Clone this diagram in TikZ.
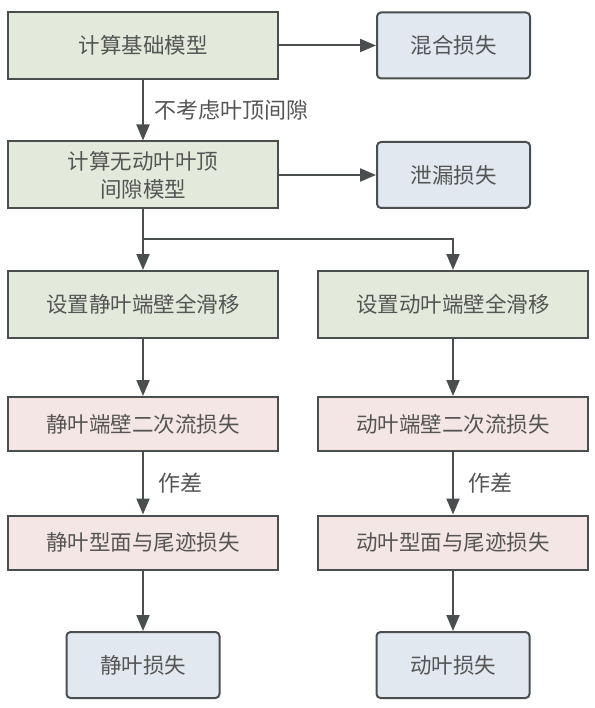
\documentclass[tikz,border=0pt]{standalone}
\usepackage{fontspec}
\newfontfamily\cjk{Noto Sans CJK SC}
\usetikzlibrary{arrows.meta}
\definecolor{boxgreen}{HTML}{E3EADB}
\definecolor{boxpink}{HTML}{F3E6E4}
\definecolor{boxblue}{HTML}{E1E8EF}
\definecolor{edge}{HTML}{4A4E4E}
\definecolor{txt}{HTML}{555555}
\begin{document}
\begin{tikzpicture}[x=1pt,y=-1pt,
  base/.style={draw=edge, line width=2pt, text=txt, font=\cjk\fontsize{21.5}{28}\selectfont, inner sep=0pt, align=center},
  greenbox/.style={base, fill=boxgreen, minimum width=270pt, minimum height=67pt},
  pinkbox/.style={base, fill=boxpink, minimum width=270pt, minimum height=54pt},
  bluebox/.style={base, fill=boxblue, rounded corners=4pt, minimum width=153pt, minimum height=66pt},
  arr/.style={draw=edge, line width=2pt, -{Triangle[length=16pt,width=13pt]}},
  lbl/.style={text=txt, font=\cjk\fontsize{22}{24}\selectfont, inner sep=0pt}
]
\useasboundingbox (0,0) rectangle (594,708);
\node[greenbox] (jc) at (143,45.5) {计算基础模型};
\node[bluebox] (hh) at (453.5,45.5) {混合损失};
\node[greenbox] (wd) at (143,175) {计算无动叶叶顶\\间隙模型};
\node[bluebox] (xl) at (453.5,175) {泄漏损失};
\node[greenbox] (sj) at (143,304.5) {设置静叶端壁全滑移};
\node[greenbox] (sd) at (453,304.5) {设置动叶端壁全滑移};
\node[pinkbox] (ej) at (143,424) {静叶端壁二次流损失};
\node[pinkbox] (ed) at (453,424) {动叶端壁二次流损失};
\node[pinkbox] (xj) at (143,542.5) {静叶型面与尾迹损失};
\node[pinkbox] (xd) at (453,542.5) {动叶型面与尾迹损失};
\node[bluebox] (jl) at (143,665) {静叶损失};
\node[bluebox] (dl) at (453,665) {动叶损失};
\coordinate (brR) at (453,239);
\draw[arr] (jc) -- (hh);
\draw[arr] (wd) -- (xl);
\draw[arr] (jc) -- node[right=10pt, lbl] {不考虑叶顶间隙} (wd);
\draw[arr] (wd) -- (sj);
\draw[arr] (wd.south) |- (brR) -- (sd.north);
\draw[arr] (sj) -- (ej);
\draw[arr] (sd) -- (ed);
\draw[arr] (ej) -- node[right=14pt, lbl] {作差} (xj);
\draw[arr] (ed) -- node[right=14pt, lbl] {作差} (xd);
\draw[arr] (xj) -- (jl);
\draw[arr] (xd) -- (dl);
\end{tikzpicture}
\end{document}
